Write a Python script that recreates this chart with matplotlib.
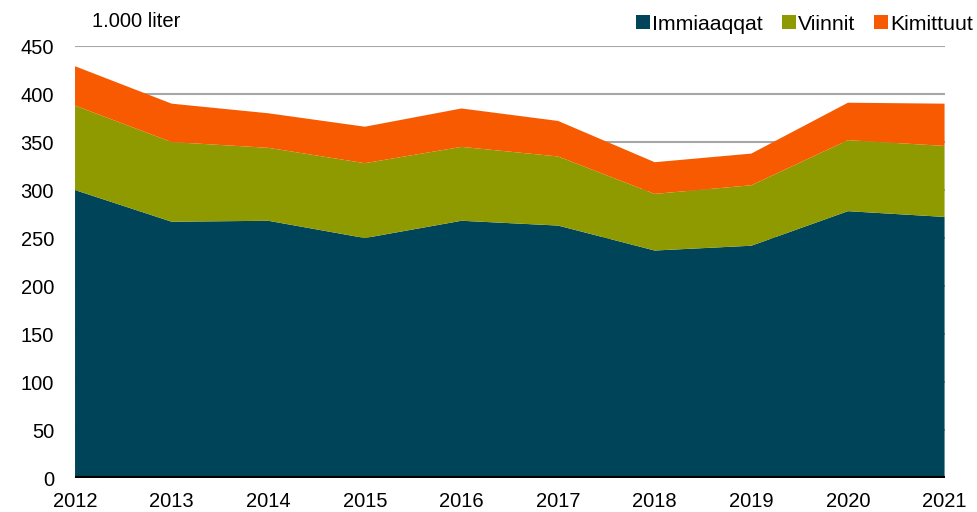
import matplotlib.pyplot as plt
import numpy as np

plt.rcParams["font.family"] = ["Liberation Sans", "DejaVu Sans"]

years = [2012, 2013, 2014, 2015, 2016, 2017, 2018, 2019, 2020, 2021]
immiaaqqat = [300, 267, 268, 250, 268, 263, 237, 242, 278, 272]
viinnit = [88, 83, 76, 78, 77, 72, 59, 63, 74, 74]
kimittuut = [41, 40, 36, 38, 40, 37, 33, 33, 39, 44]
labels = ["Immiaaqqat", "Viinnit", "Kimittuut"]
colors = ["#00445A", "#8F9A00", "#F75A00"]

fig = plt.figure(figsize=(9.77, 5.12), dpi=100)
ax = fig.add_axes([0.0768, 0.0664, 0.890, 0.8436])
ax.set_axisbelow(True)
ax.yaxis.grid(True, color="#A6A6A6", linewidth=1.5)

ax.stackplot(years, immiaaqqat, viinnit, kimittuut, colors=colors,
             labels=labels, linewidth=0, zorder=2)

ax.set_xlim(years[0], years[-1])
ax.set_ylim(0, 450)
ax.set_yticks(np.arange(0, 451, 50))
ax.set_xticks(years)
ax.axhline(0, color="black", linewidth=3, zorder=3)
for s in ax.spines.values():
    s.set_visible(False)
ax.tick_params(axis="both", length=0, labelsize=14.5)
ax.tick_params(axis="y", pad=15)
ax.tick_params(axis="x", pad=10)

fig.text(0.094, 0.958, "1.000 liter", fontsize=14.5, va="center", ha="left")

leg = fig.legend(loc="center right", bbox_to_anchor=(0.996, 0.953), ncol=3,
                 frameon=False, fontsize=15.3, handlelength=0.65, handleheight=0.65,
                 handletextpad=0.1, columnspacing=0.9, borderpad=0, borderaxespad=0)

fig.savefig("out.png", dpi=100)
